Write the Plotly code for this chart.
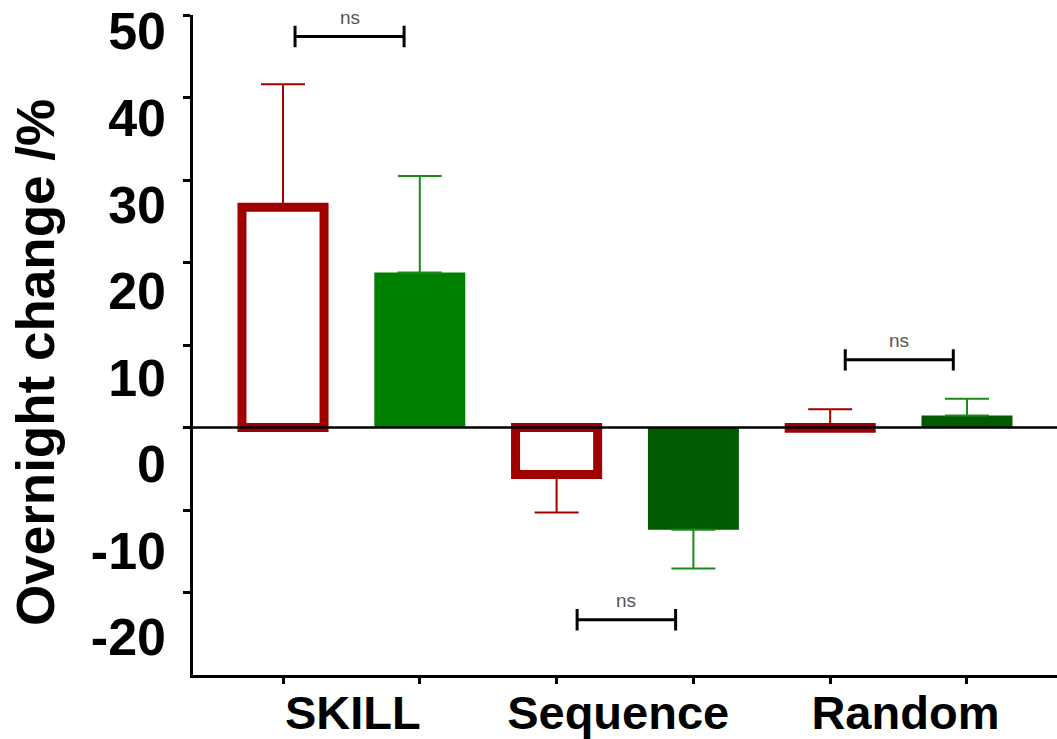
import plotly.graph_objects as go

# ---------------- data ----------------
CATEGORIES = ["SKILL", "Sequence", "Random"]
RED_VALUES = [26.7, -5.7, -0.1]
RED_ERR_PLUS = [14.9, 0.0, 2.3]
RED_ERR_MINUS = [0.0, 4.6, 0.0]
GREEN_VALUES = [18.8, -12.4, 1.45]
GREEN_ERR_PLUS = [11.7, 0.0, 2.05]
GREEN_ERR_MINUS = [0.0, 4.7, 0.0]
GREEN_COLORS = ["#008000", "#005A00", "#005A00"]
Y_TICKS = [50, 40, 30, 20, 10, 0, -10, -20]
Y_TICK_TEXT = ["50", "40", "30", "20", "10", "0", "-10", "-20"]
# significance brackets: height and label
BRACKET_Y = [47.4, -23.3, 8.2]
BRACKET_LABEL = ["ns", "ns", "ns"]

RED = "#A00000"
FONT = "Liberation Sans, Arial, sans-serif"

n = len(CATEGORIES)
red_x = [2 * i for i in range(n)]
green_x = [2 * i + 1 for i in range(n)]

fig = go.Figure()
fig.add_trace(go.Bar(
    x=red_x, y=RED_VALUES, width=0.6,
    marker=dict(color="white", line=dict(color=RED, width=9)),
    error_y=dict(type="data", symmetric=False, array=RED_ERR_PLUS,
                 arrayminus=RED_ERR_MINUS, color=RED, thickness=2, width=22),
    showlegend=False,
))
fig.add_trace(go.Bar(
    x=green_x, y=GREEN_VALUES, width=0.665,
    marker=dict(color=GREEN_COLORS, line=dict(width=0)),
    error_y=dict(type="data", symmetric=False, array=GREEN_ERR_PLUS,
                 arrayminus=GREEN_ERR_MINUS, color="#1E8A1E", thickness=2, width=22),
    showlegend=False,
))
# dummy trace so the label axis is drawn
fig.add_trace(go.Scatter(x=[None], y=[None], yaxis="y2", showlegend=False, hoverinfo="skip"))

# zero line drawn above bars
fig.add_shape(type="line", xref="paper", x0=0, x1=1, yref="y", y0=0, y1=0,
              line=dict(color="black", width=2.5), layer="above")

# significance brackets
cap = 1.3
offsets = [(0.088, 0.885), (2.15, 2.87), (4.11, 4.90)]
for (x0, x1), yb, lab in zip(offsets, BRACKET_Y, BRACKET_LABEL):
    path = (f"M{x0},{yb - cap} L{x0},{yb + cap} M{x0},{yb} L{x1},{yb} "
            f"M{x1},{yb - cap} L{x1},{yb + cap}")
    fig.add_shape(type="path", path=path, xref="x", yref="y",
                  line=dict(color="black", width=3), layer="above")
    fig.add_annotation(x=(x0 + x1) / 2, y=yb, xref="x", yref="y", text=lab,
                       showarrow=False, yshift=19, yanchor="middle",
                       font=dict(family=FONT, size=19, color="#555555"))

fig.add_annotation(
    text="Overnight change /%", xref="paper", yref="paper",
    x=-0.183, y=0.474, xanchor="center", yanchor="middle", textangle=-90,
    showarrow=False, font=dict(family=FONT, size=53, color="black", weight="bold"),
)

fig.update_layout(
    width=1057, height=739,
    margin=dict(l=193, r=0, t=15, b=64, autoexpand=False),
    plot_bgcolor="white", paper_bgcolor="white",
    barmode="overlay",
    xaxis=dict(
        range=[-0.658, 5.658], showline=True, linecolor="black", linewidth=3,
        tickvals=[0.51, 2.45, 4.55], ticktext=CATEGORIES, ticks="",
        tickfont=dict(family=FONT, size=47, color="black", weight="bold"),
        ticklabelstandoff=-5, automargin=False,
        minor=dict(ticks="outside", dtick=1, tick0=0, ticklen=6, tickwidth=2.5,
                   tickcolor="black", showgrid=False),
        showgrid=False, zeroline=False,
    ),
    yaxis=dict(
        range=[-30, 50], showline=True, linecolor="black", linewidth=3,
        ticks="outside", tickvals=Y_TICKS, ticklen=7, tickwidth=3, tickcolor="black",
        showticklabels=False, showgrid=False, zeroline=False, automargin=False,
    ),
    yaxis2=dict(
        overlaying="y", side="left", range=[-24.37, 51.87],
        tickvals=Y_TICKS, ticktext=Y_TICK_TEXT, ticks="",
        tickfont=dict(family=FONT, size=52, color="black", weight="bold"),
        ticklabelstandoff=26, showline=False, showgrid=False, zeroline=False,
        automargin=False,
    ),
)

fig.write_html(
    "out.html",
    config={"displayModeBar": False},
    post_script="document.body.style.margin='0';document.body.style.padding='0';",
)
